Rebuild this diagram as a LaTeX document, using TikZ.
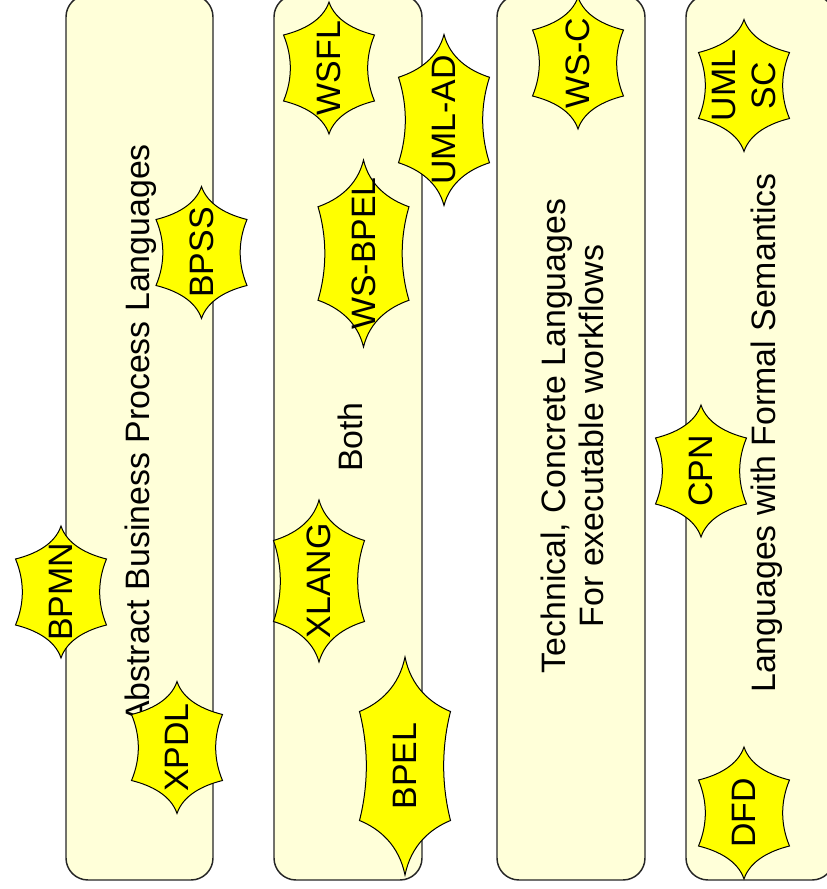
\documentclass[tikz,border=0pt]{standalone}
\usepackage{fontspec}
\setmainfont{Liberation Sans}
\definecolor{lanefill}{RGB}{255,255,217}
\definecolor{starfill}{RGB}{255,255,0}
\tikzset{every picture/.style={line width=0.75pt}}
\tikzset{
  lane/.style={draw=black!85, fill=lanefill, line width=1.1pt, rounded corners=16.5pt},
  lanetext/.style={rotate=90, align=center, inner sep=0.75pt, font=\fontsize{25.4}{28.5}\selectfont},
  startext/.style={rotate=90, align=center, inner sep=0.75pt, font=\fontsize{25.4}{29.5}\selectfont},
  langstar/.pic={
    \draw[fill=starfill] (0,-1) .. controls (0.133,-0.727) and (0.555,-0.576) .. (1,-0.5)
      .. controls (0.8,-0.17) and (0.8,0.17) .. (1,0.5)
      .. controls (0.555,0.576) and (0.133,0.727) .. (0,1)
      .. controls (-0.133,0.727) and (-0.555,0.576) .. (-1,0.5)
      .. controls (-0.8,0.17) and (-0.8,-0.17) .. (-1,-0.5)
      .. controls (-0.555,-0.576) and (-0.133,-0.727) .. (0,-1) -- cycle ;
  }
}

\begin{document}
\begin{tikzpicture}[x=0.75pt,y=0.75pt,yscale=-1,xscale=1]
\useasboundingbox (0,0) rectangle (827,889);

% Lanes
\draw [lane] (66,-5) rectangle (213,880) ;
\draw [lane] (274,-5) rectangle (422,880) ;
\draw [lane] (497,-5) rectangle (645,880) ;
\draw [lane] (686,-5) rectangle (834,880) ;

% Lane Text
\node [lanetext] (abstract) at (141,434) {Abstract Business Process Languages};
\node [lanetext] (both) at (350,437) {Both};
\node [lanetext] (technical) at (572,436) {Technical, Concrete Languages\\For executable workflows};
\node [lanetext] (formal) at (767,433) {Languages with Formal Semantics};

% Stars
\pic [xscale=45.5,yscale=66] at (61,592) {langstar};
\node [startext] (bpmn) at (61,592) {BPMN};
\pic [xscale=45.5,yscale=66] at (177,747.5) {langstar};
\node [startext] (xpdl) at (177,747.5) {XPDL};
\pic [xscale=45.5,yscale=66] at (201.5,252.5) {langstar};
\node [startext] (bpss) at (201.5,252.5) {BPSS};
\pic [xscale=45.5,yscale=66] at (329,68) {langstar};
\node [startext] (wsfl) at (329,68) {WSFL};
\pic [xscale=45.5,yscale=85.5] at (444,120) {langstar};
\node [startext] (umlad) at (444,120) {UML-AD};
\pic [xscale=45.5,yscale=93.5] at (363.5,253.5) {langstar};
\node [startext] (wsbpel) at (363.5,253.5) {WS-BPEL};
\pic [xscale=45.5,yscale=81] at (319,581) {langstar};
\node [startext] (xlang) at (319,581) {XLANG};
\pic [xscale=45.5,yscale=109] at (405,766) {langstar};
\node [startext] (bpel) at (405,766) {BPEL};
\pic [xscale=45.5,yscale=66] at (578,63) {langstar};
\node [startext] (wsc) at (578,63) {WS-C};
\pic [xscale=45.5,yscale=66] at (744,85.5) {langstar};
\node [startext] (umlsc) at (744,85.5) {UML\\SC};
\pic [xscale=45.5,yscale=66] at (701,471) {langstar};
\node [startext] (cpn) at (701,471) {CPN};
\pic [xscale=45.5,yscale=66] at (744,813) {langstar};
\node [startext] (dfd) at (744,813) {DFD};

\end{tikzpicture}
\end{document}
